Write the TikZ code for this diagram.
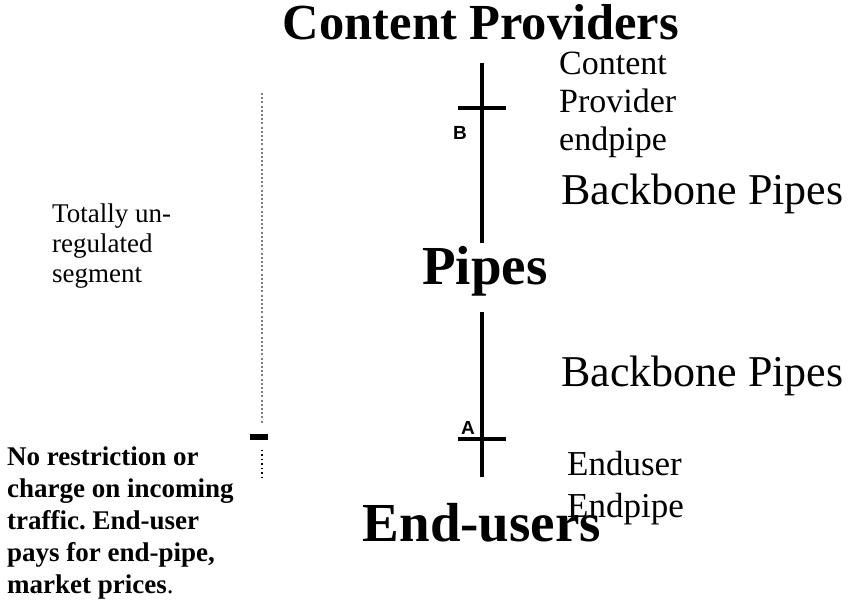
\documentclass[tikz,border=0pt]{standalone}
\usepackage{fontspec}
\setmainfont{Liberation Serif}
\newfontfamily\lsans{Liberation Sans}
\usepackage{tikz}
\usetikzlibrary{positioning}
\frenchspacing

\begin{document}
\begin{tikzpicture}[x=1pt, y=-1pt,
    head/.style={anchor=base, inner sep=0pt, font=\bfseries\fontsize{55}{60}\selectfont},
    pipe/.style={black, line width=3.2pt},
    side/.style={anchor=north west, inner sep=0pt, align=left}]
    \useasboundingbox (0,0) rectangle (855,601);
    % headings
    \node[head, font=\bfseries\fontsize{50.5}{60}\selectfont] (cp) at (481,40) {Content Providers};
    \node[head] (pipes) at (485,285) {Pipes};
    \node[head] (eu) at (482,542) {End-users};
    % upper pipe, crossbar at B
    \coordinate (ut) at (482,63);
    \coordinate (ub) at (482,243);
    \coordinate (bl) at (458,108);
    \coordinate (br) at (506,108);
    \draw[pipe] (ut) -- (ub);
    \draw[pipe] (bl) -- (br);
    \node[inner sep=0pt, font=\lsans\bfseries\fontsize{19}{19}\selectfont] (b) at (460,133) {B};
    % lower pipe, crossbar at A
    \coordinate (lt) at (482,312);
    \coordinate (lb) at (482,477);
    \coordinate (al) at (458,439);
    \coordinate (ar) at (506,439);
    \draw[pipe] (lt) -- (lb);
    \draw[pipe] (al) -- (ar);
    \node[inner sep=0pt, font=\lsans\bfseries\fontsize{19}{19}\selectfont] (a) at (468,428) {A};
    % right labels
    \node[side, font=\fontsize{34}{38}\selectfont] (cpe) at (559,52) {Content\\Provider\\endpipe};
    \node[anchor=base west, inner sep=0pt, font=\fontsize{44}{44}\selectfont] (bb1) at (561,205) {Backbone Pipes};
    \node[anchor=base west, inner sep=0pt, font=\fontsize{44}{44}\selectfont] (bb2) at (561,387) {Backbone Pipes};
    \node[side, font=\fontsize{35}{42}\selectfont] (eue) at (567,451) {Enduser\\Endpipe};
    % left segment marks
    \coordinate (dt) at (262,93);
    \coordinate (db) at (262,423);
    \draw[gray, line width=1.4pt, dash pattern=on 2pt off 2.2pt] (dt) -- (db);
    \fill[black] (250,434) rectangle (268,440);
    \coordinate (kt) at (262,450);
    \coordinate (kb) at (262,481);
    \draw[black, line width=1.8pt, dash pattern=on 1.5pt off 3pt] (kt) -- (kb);
    % left texts
    \node[side, font=\fontsize{27}{30}\selectfont] (tot) at (52,204) {Totally un-\\regulated\\segment};
    \node[side, font=\bfseries\fontsize{27}{32}\selectfont] (nor) at (7,447)
        {No restriction or\\charge on incoming\\traffic. End-user\\pays for end-pipe,\\market prices\textmd{.}};
\end{tikzpicture}
\end{document}
